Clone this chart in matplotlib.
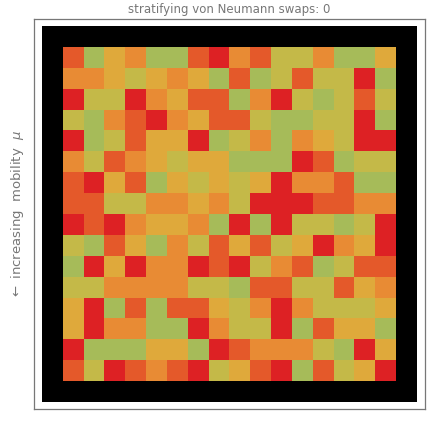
import numpy as np
import matplotlib
matplotlib.use("Agg")
from matplotlib import pyplot as plt
from matplotlib.colors import ListedColormap

# cell states, one string per row (top to bottom)
# R=red, D=red-orange, O=orange, G=gold, Y=olive, L=green
rows = [
    "DLGOLLDRODYYOLLG",
    "OOGYGOGLDLYDYYRL",
    "RYYROGDDLORYLYDY",
    "YLODROGDDYLLYYRL",
    "RLYDGGRLYOLOGYRR",
    "OYDOGYGGLLLRDLYY",
    "DRGDLGYGYGROODLL",
    "DDYYOOGOYRRRDDOO",
    "RDROGGOLRLRYYLYR",
    "YLDGLOYDGDYGROGR",
    "LRGROORDRYODLYDD",
    "YYOOOOYYLDDYYDGO",
    "GRLDLDDGYOROYYYG",
    "GROOLLROYYRLDGGL",
    "RLLLGGLRDOOOYLRG",
    "DYRDODRYGDRLDYGR",
]
codes = "RDOGYL"
colors = ["#dd2124", "#e4592a", "#e88b34", "#dfa93b", "#c4b948", "#a6bb59", "#000000"]
title = "stratifying von Neumann swaps: 0"
ylabel = r"$\leftarrow$ increasing  mobility  $\mu$"

n = len(rows)
grid = np.full((n + 2, n + 2), 6)   # black border cells
for i, r in enumerate(rows):
    for j, ch in enumerate(r):
        grid[i + 1, j + 1] = codes.index(ch)

fig = plt.figure(figsize=(4.4, 4.29), dpi=100)
ax = fig.add_axes([34 / 440, 20 / 429, 391 / 440, 390 / 429])
ax.imshow(grid, cmap=ListedColormap(colors), vmin=0, vmax=6,
          interpolation="nearest", aspect="auto")
ax.set_xlim(-0.5 - 0.4, n + 1.5 + 0.37)
ax.set_ylim(n + 1.5 + 0.34, -0.5 - 0.38)
ax.set_xticks([])
ax.set_yticks([])
for s in ax.spines.values():
    s.set_color("#777777")
    s.set_linewidth(0.9)
ax.set_title(title, fontsize=8.5, color="#777777", pad=4)
ax.set_ylabel(ylabel, fontsize=9.5, color="#777777", labelpad=6)

plt.savefig("out.png", dpi=100)
